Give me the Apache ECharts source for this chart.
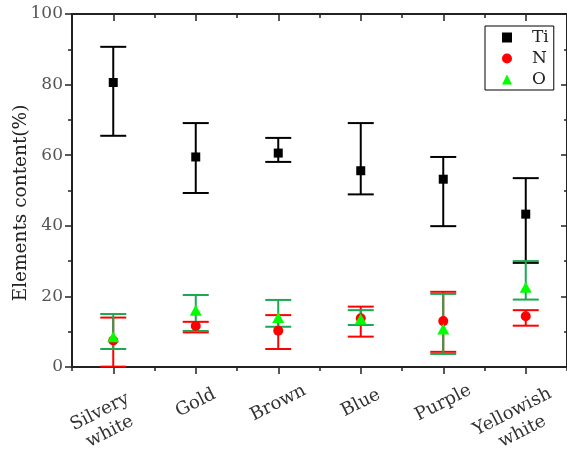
<!DOCTYPE html>
<html><head><meta charset="utf-8">
<script src="https://cdn.jsdelivr.net/npm/echarts@6/dist/echarts.min.js"></script>
<style>html,body{margin:0;padding:0;background:#fff}#c{width:567px;height:455px}</style>
</head><body><div id="c"></div>
<script>
const categories = ['Silvery\nwhite', 'Gold', 'Brown', 'Blue', 'Purple', 'Yellowish\nwhite'];
const tiMean = [80.6, 59.5, 60.6, 55.6, 53.2, 43.3];
const tiLow  = [65.5, 49.3, 58.1, 48.9, 39.9, 29.5];
const tiHigh = [90.7, 69.1, 64.9, 69.1, 59.5, 53.5];
const nMean  = [7.5, 11.6, 10.3, 13.8, 13.0, 14.4];
const nLow   = [0.1, 9.8, 5.1, 8.6, 4.3, 11.7];
const nHigh  = [14.0, 12.8, 14.7, 17.1, 21.3, 16.1];
const oMean  = [8.6, 16.1, 14.0, 13.6, 10.8, 22.6];
const oLow   = [5.1, 10.2, 11.4, 11.9, 3.7, 19.1];
const oHigh  = [15.0, 20.4, 19.0, 16.1, 20.7, 30.0];
const yTicks = [0, 20, 40, 60, 80, 100];
const yName = 'Elements content(%)';

const FONT = 'DejaVu Serif';
const AX = '#222';

function errRenderer(color) {
  return function (params, api) {
    const x = api.value(0), lo = api.value(1), hi = api.value(2);
    const pLo = api.coord([x, lo]), pHi = api.coord([x, hi]);
    const hw = 13;
    const style = { stroke: color, lineWidth: 2 };
    return { type: 'group', children: [
      { type: 'line', shape: { x1: pLo[0], y1: pLo[1], x2: pHi[0], y2: pHi[1] }, style: style },
      { type: 'line', shape: { x1: pLo[0] - hw, y1: pLo[1], x2: pLo[0] + hw, y2: pLo[1] }, style: style },
      { type: 'line', shape: { x1: pHi[0] - hw, y1: pHi[1], x2: pHi[0] + hw, y2: pHi[1] }, style: style }
    ]};
  };
}
function errData(lo, hi) { return categories.map((c, i) => [i, lo[i], hi[i]]); }
function ptData(m) { return categories.map((c, i) => [i, m[i]]); }

// two-line labels are shifted along the rotated baseline (as in the reference)
const catItems = categories.map(c => c.indexOf('\n') >= 0
  ? { value: c, textStyle: { align: 'center', verticalAlign: 'top', padding: [-9, 32, 0, 0] } }
  : c);

const baseX = { type: 'category', data: catItems, boundaryGap: true, gridIndex: 0 };
const chart = echarts.init(document.getElementById('c'));
chart.setOption({
  animation: false,
  grid: { left: 72, right: 0, top: 14, bottom: 88, containLabel: false, outerBoundsMode: 'none' },
  graphic: [{
    type: 'text', x: 21, y: 203, rotation: Math.PI / 2,
    style: { text: yName, fontFamily: FONT, fontSize: 18.5, fill: '#222', align: 'center', verticalAlign: 'middle' }
  }],
  xAxis: [
    Object.assign({}, baseX, {
      position: 'bottom',
      axisLine: { show: true, lineStyle: { color: AX, width: 2 } },
      axisTick: { show: true, alignWithLabel: true, interval: 0, length: 7, lineStyle: { color: AX, width: 1.5 } },
      axisLabel: { show: true, interval: 0, rotate: 27, align: 'center', verticalAlign: 'middle', margin: 36,
        fontFamily: FONT, fontSize: 18, lineHeight: 22, color: '#333' },
      splitLine: { show: false }
    }),
    Object.assign({}, baseX, {
      position: 'bottom',
      axisLine: { show: false },
      axisTick: { show: true, interval: 0, length: 4, lineStyle: { color: AX, width: 1.5 } },
      axisLabel: { show: false }, splitLine: { show: false }
    }),
    Object.assign({}, baseX, {
      position: 'top',
      axisLine: { show: true, lineStyle: { color: AX, width: 2 } },
      axisTick: { show: true, inside: true, alignWithLabel: true, interval: 0, length: 7, lineStyle: { color: AX, width: 1.5 } },
      axisLabel: { show: false }, splitLine: { show: false }
    }),
    Object.assign({}, baseX, {
      position: 'top',
      axisLine: { show: false },
      axisTick: { show: true, inside: true, interval: 0, length: 4, lineStyle: { color: AX, width: 1.5 } },
      axisLabel: { show: false }, splitLine: { show: false }
    })
  ],
  yAxis: [
    {
      type: 'value', min: 0, max: 100, interval: 20, position: 'left',
      axisLine: { show: true, lineStyle: { color: AX, width: 2 } },
      axisTick: { show: true, length: 7, lineStyle: { color: AX, width: 1.5 } },
      minorTick: { show: true, splitNumber: 2, length: 4, lineStyle: { color: AX, width: 1.5 } },
      axisLabel: { margin: 9, fontFamily: FONT, fontSize: 17, color: '#555',
        formatter: v => (yTicks.indexOf(v) >= 0 ? String(v) : '') },
      splitLine: { show: false }
    },
    {
      type: 'value', min: 0, max: 100, interval: 20, position: 'right',
      axisLine: { show: true, lineStyle: { color: AX, width: 2 } },
      axisTick: { show: true, inside: true, length: 6, lineStyle: { color: AX, width: 1.5 } },
      minorTick: { show: true, splitNumber: 2, length: 3, lineStyle: { color: AX, width: 1.5 } },
      axisLabel: { show: false },
      splitLine: { show: false }
    }
  ],
  legend: {
    orient: 'vertical', left: 485, top: 26,
    borderColor: '#000', borderWidth: 1, borderRadius: 0,
    padding: [3, 5, 2, 17], itemGap: 4, itemWidth: 10, itemHeight: 10,
    textStyle: { fontFamily: FONT, fontSize: 17, color: '#222', padding: [0, 0, 0, 15] },
    data: [{ name: 'Ti', icon: 'rect' }, { name: 'N', icon: 'circle' }, { name: 'O', icon: 'triangle' }]
  },
  series: [
    { type: 'custom', name: 'TiErr', renderItem: errRenderer('#000'), data: errData(tiLow, tiHigh), encode: { x: 0, y: [1, 2] }, z: 2 },
    { type: 'custom', name: 'NErr', renderItem: errRenderer('#ff0000'), data: errData(nLow, nHigh), encode: { x: 0, y: [1, 2] }, z: 2 },
    { type: 'custom', name: 'OErr', renderItem: errRenderer('#1aa850'), data: errData(oLow, oHigh), encode: { x: 0, y: [1, 2] }, z: 2 },
    { type: 'scatter', name: 'Ti', symbol: 'rect', symbolSize: 9, itemStyle: { color: '#000', opacity: 1 }, data: ptData(tiMean), z: 3 },
    { type: 'scatter', name: 'N', symbol: 'circle', symbolSize: 10, itemStyle: { color: '#ff0000', opacity: 1 }, data: ptData(nMean), z: 3 },
    { type: 'scatter', name: 'O', symbol: 'triangle', symbolSize: [12, 11], itemStyle: { color: '#00ff00', opacity: 1 }, data: ptData(oMean), z: 4 }
  ]
});
</script></body></html>
